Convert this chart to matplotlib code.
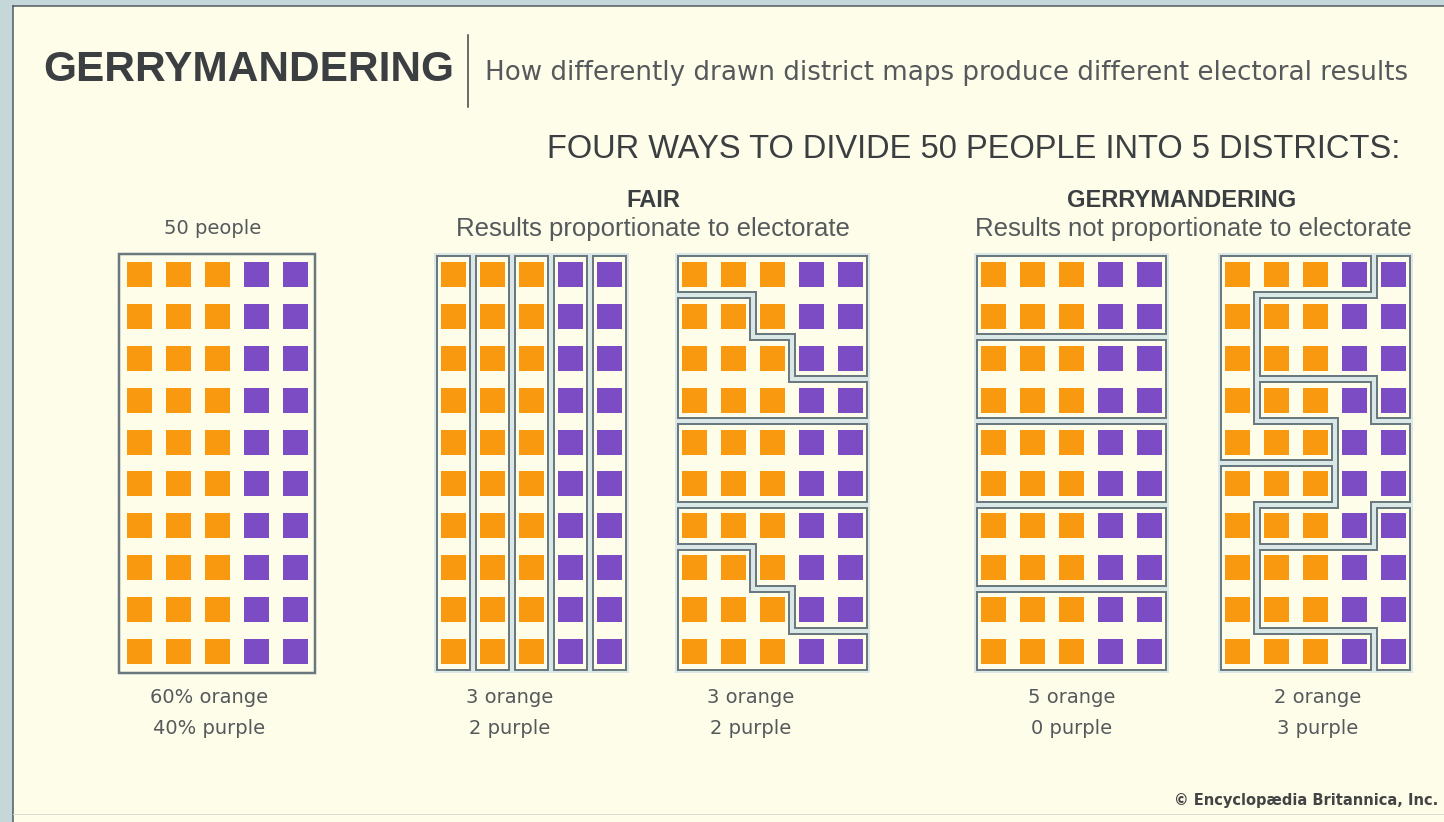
# external libraries
import matplotlib.pyplot as plt
from matplotlib.patches import Rectangle, Polygon

# ---- data ----
# who lives where: 10 rows x 5 columns, O = orange voter, P = purple voter
voters = ["OOOPP"] * 10

# district maps (same letter = same district)
map_all = ["AAAAA"] * 10
map_fair_cols = ["ABCDE"] * 10
map_fair_steps = ["AAAAA", "BBAAA", "BBBAA", "BBBBB", "CCCCC",
                  "CCCCC", "DDDDD", "EEDDD", "EEEDD", "EEEEE"]
map_gerry_rows = ["AAAAA", "AAAAA", "BBBBB", "BBBBB", "CCCCC",
                  "CCCCC", "DDDDD", "DDDDD", "EEEEE", "EEEEE"]
map_gerry_snake = ["AAAAB", "ABBBB", "ABBBB", "ACCCB", "AAACC",
                   "EEECC", "ECCCD", "EDDDD", "EDDDD", "EEEED"]
maps = [map_all, map_fair_cols, map_fair_steps, map_gerry_rows, map_gerry_snake]

result_lines = [("60% orange", "40% purple"),
                ("3 orange", "2 purple"),
                ("3 orange", "2 purple"),
                ("5 orange", "0 purple"),
                ("2 orange", "3 purple")]

# ---- style / layout ----
W, H = 1444, 822
CREAM = "#fdfde9"
ORANGE = "#f8990f"
PURPLE = "#7b4cc4"
LINE = "#6a7880"
BAND = "#d9e8e6"
TXT = "#3c3f42"
TXT2 = "#56595c"

map_left = [120, 434, 675, 974, 1218]
label_dx = [-8, -22, -22, 0, 2]
top = 253.5
pitch_x, pitch_y = 39.0, 41.9
sq_w, sq_h = 25.0, 25.0
inset, line_w = 3.0, 2.0
PT = 0.72  # points per pixel at dpi 100


def outline(grid, key):
    # boundary of one district as a closed list of grid vertices
    nr, nc = len(grid), len(grid[0])

    def inside(r, c):
        return 0 <= r < nr and 0 <= c < nc and grid[r][c] == key

    edges = {}
    for r in range(nr):
        for c in range(nc):
            if grid[r][c] != key:
                continue
            if not inside(r - 1, c):
                edges[(c, r)] = (c + 1, r)
            if not inside(r, c + 1):
                edges[(c + 1, r)] = (c + 1, r + 1)
            if not inside(r + 1, c):
                edges[(c + 1, r + 1)] = (c, r + 1)
            if not inside(r, c - 1):
                edges[(c, r + 1)] = (c, r)
    start = min(edges)
    pts = [start]
    p = edges[start]
    while p != start:
        pts.append(p)
        p = edges[p]
    return pts


fig = plt.figure(figsize=(W / 100, H / 100), dpi=100, facecolor=CREAM)
ax = fig.add_axes([0, 0, 1, 1])
ax.set_xlim(0, W)
ax.set_ylim(H, 0)
ax.axis("off")

# frame strips
ax.add_patch(Rectangle((0, 0), 13, H, color="#c6d7d9", lw=0))
ax.add_patch(Rectangle((0, 0), W, 6, color="#c6d7d9", lw=0))
ax.plot([13, 13], [6, H], color="#4e585c", lw=1.5 * PT)
ax.plot([13, W], [6.5, 6.5], color="#4e585c", lw=1.5 * PT)
ax.plot([13, W], [814, 814], color="#dcdcd0", lw=1.0 * PT)

for m, grid in enumerate(maps):
    x0 = map_left[m]
    keys = sorted(set("".join(grid)))
    if len(keys) == 1:
        ax.add_patch(Rectangle((x0 - 1, top), 5 * pitch_x + 1, 10 * pitch_y,
                               fill=False, edgecolor=LINE, lw=2.5 * PT))
    else:
        for k in keys:
            xy = [(x0 + c * pitch_x, top + r * pitch_y) for c, r in outline(grid, k)]
            poly = Polygon(xy, closed=True, facecolor=CREAM, edgecolor="none")
            ax.add_patch(poly)
            for lw, col in [(2 * (inset + line_w / 2), LINE), (2 * (inset - line_w / 2), BAND)]:
                s = Polygon(xy, closed=True, fill=False, edgecolor=col, lw=lw * PT,
                            joinstyle="miter")
                ax.add_patch(s)
                s.set_clip_path(poly)
    # voters
    for r, row in enumerate(voters):
        for c, v in enumerate(row):
            ax.add_patch(Rectangle((x0 + c * pitch_x + (pitch_x - sq_w) / 2,
                                    top + r * pitch_y + (pitch_y - sq_h) / 2),
                                   sq_w, sq_h, color=ORANGE if v == "O" else PURPLE, lw=0))
    cx = x0 + 2.5 * pitch_x + label_dx[m]
    ax.text(cx, 697, result_lines[m][0], ha="center", va="center", fontsize=14, color=TXT2)
    ax.text(cx, 728, result_lines[m][1], ha="center", va="center", fontsize=14, color=TXT2)

# titles
ax.text(43, 70, "GERRYMANDERING", ha="left", va="center", fontsize=30.5,
        fontweight="bold", family="Liberation Sans", color=TXT)
ax.plot([468, 468], [35, 107], color=TXT, lw=1.5 * PT)
ax.text(485, 73, "How differently drawn district maps produce different electoral results",
        ha="left", va="center", fontsize=18.8, color=TXT2)
ax.text(974, 150, "FOUR WAYS TO DIVIDE 50 PEOPLE INTO 5 DISTRICTS:", ha="center", va="center",
        fontsize=23.5, family="Liberation Sans", color=TXT)
ax.text(653, 200, "FAIR", ha="center", va="center", fontsize=17, fontweight="bold",
        family="Liberation Sans", color=TXT)
ax.text(653, 229, "Results proportionate to electorate", ha="center", va="center",
        fontsize=18.5, family="Liberation Sans", color=TXT2)
ax.text(1182, 200, "GERRYMANDERING", ha="center", va="center", fontsize=17, fontweight="bold",
        family="Liberation Sans", color=TXT)
ax.text(1193, 229, "Results not proportionate to electorate", ha="center", va="center",
        fontsize=18.5, family="Liberation Sans", color=TXT2)
ax.text(213, 228, "50 people", ha="center", va="center", fontsize=14, color=TXT2)
ax.text(1438, 800, "© Encyclopædia Britannica, Inc.", ha="right", va="center", fontsize=10.5,
        fontweight="bold", color="#444444")

fig.savefig("out.png", dpi=100, facecolor=CREAM)
